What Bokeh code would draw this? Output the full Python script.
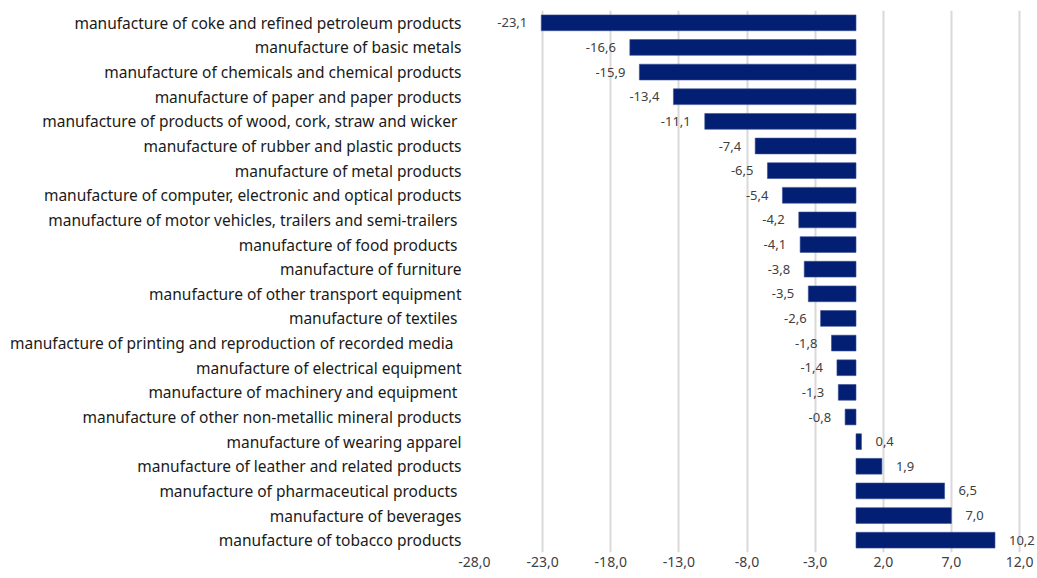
from bokeh.plotting import figure
from bokeh.models import ColumnDataSource, FactorRange, Range1d, FixedTicker, LabelSet
from bokeh.core.properties import value
from bokeh.embed import file_html
from bokeh.resources import INLINE

categories = [
    "manufacture of coke and refined petroleum products",
    "manufacture of basic metals",
    "manufacture of chemicals and chemical products",
    "manufacture of paper and paper products",
    "manufacture of products of wood, cork, straw and wicker ",
    "manufacture of rubber and plastic products",
    "manufacture of metal products",
    "manufacture of computer, electronic and optical products",
    "manufacture of motor vehicles, trailers  and semi-trailers",
    "manufacture of food products ",
    "manufacture of furniture",
    "manufacture of other transport equipment",
    "manufacture of textiles ",
    "manufacture of printing  and reproduction of recorded media ",
    "manufacture of electrical equipment",
    "manufacture of machinery and equipment ",
    "manufacture of other non-metallic mineral products",
    "manufacture of wearing apparel",
    "manufacture of leather and related products",
    "manufacture of pharmaceutical products ",
    "manufacture of beverages",
    "manufacture of tobacco products",
]
values = [-23.1, -16.6, -15.9, -13.4, -11.1, -7.4, -6.5, -5.4, -4.2, -4.1, -3.8,
          -3.5, -2.6, -1.8, -1.4, -1.3, -0.8, 0.4, 1.9, 6.5, 7.0, 10.2]
x_ticks = [-28, -23, -18, -13, -8, -3, 2, 7, 12]

FONT = "Noto Sans"
BAR = "#031f73"

def fmt(v):
    return ("%.1f" % v).replace(".", ",")

src = ColumnDataSource(dict(
    cat=categories,
    val=values,
    zero=[0] * len(values),
    lab=[fmt(v) for v in values],
    off=[14 if v >= 0 else -14 for v in values],
    align=["left" if v >= 0 else "right" for v in values],
))

# frame extends past the last tick (12) to the right page edge so the
# outside-end label of the largest bar is not clipped
p = figure(
    width=1037, height=578,
    y_range=FactorRange(factors=list(reversed(categories)), range_padding=0),
    x_range=Range1d(-28, 13.32),
    output_backend="svg", toolbar_location=None,
    min_border_left=474, min_border_right=0, min_border_top=10, min_border_bottom=26,
)
p.outline_line_color = None
p.background_fill_color = "white"

p.hbar(y="cat", left="zero", right="val", height=0.64, source=src,
       fill_color=BAR, line_color="#3a4f95", line_width=0.6)

labels = LabelSet(x="val", y="cat", text="lab", source=src, x_offset="off",
                  text_align="align", text_baseline="middle",
                  text_font=value(FONT), text_font_size="13px", text_color="#404040")
p.add_layout(labels)

p.xaxis.ticker = FixedTicker(ticks=x_ticks)
p.xaxis.major_label_overrides = {t: fmt(t) for t in x_ticks}
p.xaxis.axis_line_color = None
p.xaxis.major_tick_line_color = None
p.xaxis.minor_tick_line_color = None
p.xaxis.major_tick_out = 0
p.xaxis.major_label_text_font = FONT
p.xaxis.major_label_text_font_size = "14px"
p.xaxis.major_label_text_color = "#404040"
p.xaxis.major_label_standoff = 4

p.yaxis.axis_line_color = None
p.yaxis.major_tick_line_color = None
p.yaxis.major_tick_out = 0
p.yaxis.major_label_text_font = FONT
p.yaxis.major_label_text_font_size = "15.5px"
p.yaxis.major_label_text_color = "#1a1a1a"
p.yaxis.major_label_standoff = 13

p.ygrid.grid_line_color = None
p.xgrid.grid_line_color = "#d9d9d9"
p.xgrid.grid_line_width = 2
p.xgrid.ticker = FixedTicker(ticks=x_ticks)

open("out.html", "w").write(file_html(p, INLINE))
